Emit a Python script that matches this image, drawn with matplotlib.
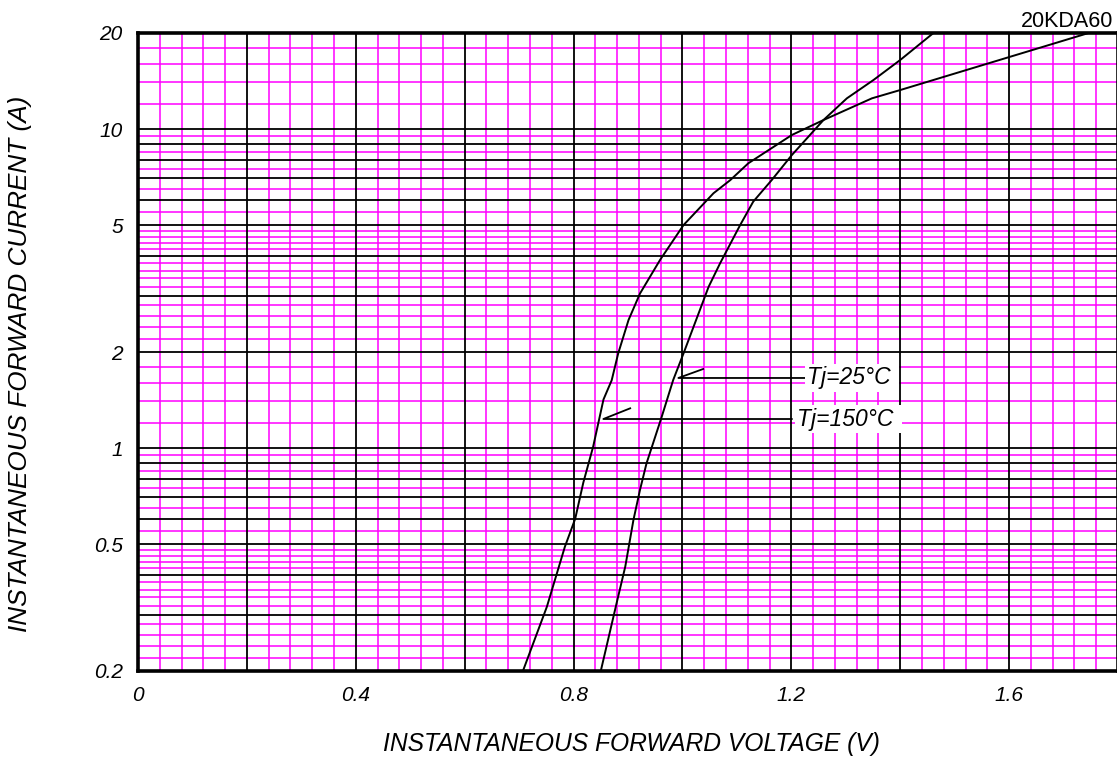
import numpy as np
import matplotlib
matplotlib.use("Agg")
import matplotlib.pyplot as plt

# ---- data ----
v_25 = [0.850, 0.879, 0.895, 0.910, 0.922, 0.934, 0.962, 0.983, 1.002, 1.048,
        1.069, 1.106, 1.130, 1.164, 1.201, 1.259, 1.302, 1.351, 1.400, 1.461]
i_25 = [0.20, 0.326, 0.425, 0.595, 0.739, 0.895, 1.254, 1.634, 1.98, 3.20,
        3.79, 5.00, 5.92, 6.92, 8.29, 10.67, 12.48, 14.25, 16.46, 20.0]

v_150 = [0.707, 0.751, 0.784, 0.803, 0.818, 0.836, 0.855, 0.870, 0.882, 0.901,
         0.922, 0.959, 1.002, 1.057, 1.088, 1.121, 1.201, 1.259, 1.348, 1.400,
         1.602, 1.746]
i_150 = [0.20, 0.318, 0.49, 0.60, 0.78, 1.01, 1.42, 1.63, 1.98, 2.52,
         3.05, 3.89, 5.00, 6.29, 6.92, 7.81, 9.58, 10.67, 12.48, 13.25,
         16.85, 20.0]

x_ticks = [0, 0.4, 0.8, 1.2, 1.6]
x_tick_labels = ["0", "0.4", "0.8", "1.2", "1.6"]
y_ticks = [0.2, 0.5, 1, 2, 5, 10, 20]
y_tick_labels = ["0.2", "0.5", "1", "2", "5", "10", "20"]

series_labels = ["Tj=25°C", "Tj=150°C"]
# leader lines: tip -> point at curve -> text
label_y = [1.658, 1.233]
leader_start_v = [0.9925, 0.8547]
leader_tip = [(1.038, 1.769), (0.904, 1.332)]
label_text_v = [1.228, 1.210]
leader_end_v = [1.225, 1.2008]

title = "20KDA60"
xlabel = "INSTANTANEOUS FORWARD VOLTAGE (V)"
ylabel = "INSTANTANEOUS FORWARD CURRENT (A)"

# ---- grid values ----
x_black = np.round(np.arange(0.2, 1.8, 0.2), 3)
x_all = np.round(np.arange(0.04, 1.8, 0.04), 3)
x_mag = [x for x in x_all if not np.isclose(x / 0.2, round(x / 0.2))]

y_black = [0.3, 0.4, 0.5, 0.6, 0.7, 0.8, 0.9, 1, 2, 3, 4, 5, 6, 7, 8, 9, 10]
y_mag = (list(np.round(np.arange(0.22, 0.5, 0.02), 3))
         + [0.55, 0.65, 0.75, 0.85, 0.95]
         + list(np.round(np.arange(1.2, 5.0, 0.2), 3))
         + [5.5, 6.5, 7.5, 8.5, 9.5]
         + [12, 14, 16, 18])
y_mag = [y for y in y_mag if not any(np.isclose(y, b) for b in y_black)]

plt.rcParams["font.family"] = ["Liberation Sans", "DejaVu Sans"]

W, H = 1117, 758
fig = plt.figure(figsize=(W / 100, H / 100), dpi=100)
ax = fig.add_axes([138 / W, 1 - 671 / H, 980 / W, 638 / H])
ax.set_yscale("log")
ax.set_xlim(0, 1.8)
ax.set_ylim(0.2, 20)

for x in x_mag:
    ax.axvline(x, color="#FF00FF", lw=1.1, zorder=1)
for y in y_mag:
    ax.axhline(y, color="#FF00FF", lw=1.1, zorder=1)
for x in x_black:
    ax.axvline(x, color="black", lw=1.3, zorder=1.5)
for y in y_black:
    ax.axhline(y, color="black", lw=1.3, zorder=1.5)

ax.plot(v_25, i_25, color="black", lw=1.4, zorder=3)
ax.plot(v_150, i_150, color="black", lw=1.4, zorder=3)

for k in range(2):
    tv, ti = leader_tip[k]
    ax.plot([tv, leader_start_v[k], leader_end_v[k]],
            [ti, label_y[k], label_y[k]], color="black", lw=1.3, zorder=3)
    ax.text(label_text_v[k], label_y[k], series_labels[k] + " ", fontsize=16.5,
            fontstyle="italic", ha="left", va="center", zorder=4,
            bbox=dict(facecolor="white", edgecolor="none", pad=1.5))

ax.set_xticks(x_ticks)
ax.set_xticklabels(x_tick_labels)
ax.set_yticks(y_ticks)
ax.set_yticklabels(y_tick_labels)
ax.yaxis.set_minor_locator(matplotlib.ticker.NullLocator())
ax.tick_params(length=0, labelsize=15, pad=11)
for lab in ax.get_xticklabels() + ax.get_yticklabels():
    lab.set_fontstyle("italic")

for s in ax.spines.values():
    s.set_linewidth(2.6)
    s.set_zorder(5)

fig.text(1113 / W, 1 - 26.7 / H, title, ha="right", va="baseline", fontsize=15.5)
fig.text(631.5 / W, 1 - 744 / H, xlabel, ha="center", va="center",
         fontsize=17.7, fontstyle="italic")
fig.text(20 / W, 1 - 363.5 / H, ylabel, ha="center", va="center",
         rotation=90, fontsize=18.8, fontstyle="italic")

fig.savefig("out.png", dpi=100)
